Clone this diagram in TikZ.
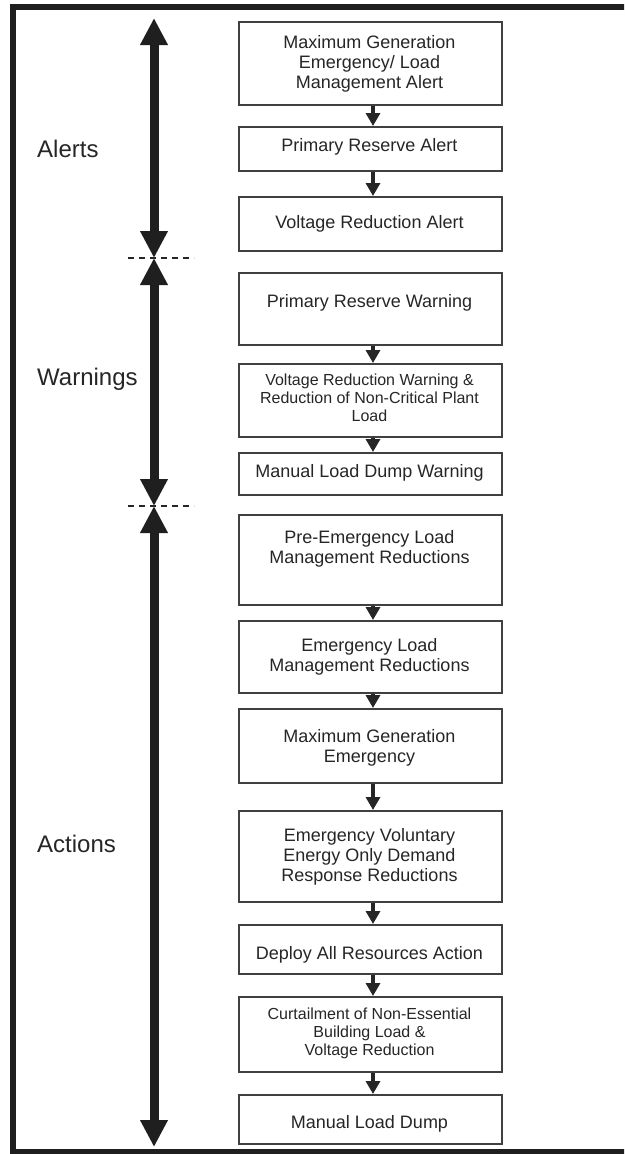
\documentclass[tikz,border=0pt]{standalone}
\usepackage{fontspec}
\setmainfont{Liberation Sans}
\usetikzlibrary{arrows.meta}
\begin{document}
\begin{tikzpicture}[x=1pt,y=-1pt,
  box/.style={draw=black!75, line width=2pt, minimum width=263pt, inner sep=0pt, anchor=north west},
  txt/.style={align=center, inner sep=0pt, text=black!85, font=\fontsize{18}{20}\selectfont},
  smalltxt/.style={txt, font=\fontsize{16}{18}\selectfont},
  lbl/.style={anchor=base west, inner sep=0pt, text=black!85, font=\fontsize{24}{28}\selectfont},
  flow/.style={-{Triangle[width=14pt,length=13pt]}, line width=3.5pt, draw=black!85},
  phase/.style={{Triangle[width=26pt,length=27pt]}-{Triangle[width=26pt,length=27pt]}, line width=9pt, draw=black!88},
  sepline/.style={draw=black!85, line width=1.3pt, dash pattern=on 6pt off 5pt},
  frame/.style={draw=black!88, line width=6pt, line join=miter}
]
\path[use as bounding box] (0,0) rectangle (624,1154);
\clip (0,0) rectangle (624,1154);
\fill[white] (0,0) rectangle (624,1154);

% outer frame
\coordinate (fbr) at (640,1152);
\coordinate (fbl) at (13,1152);
\coordinate (ftl) at (13,7);
\coordinate (ftr) at (640,7);
\draw[frame] (fbr) -- (fbl) -- (ftl) -- (ftr);

% boxes
\node[box, minimum height=83.5pt] (b1)  at (238,20.5) {};
\node[box, minimum height=44pt]   (b2)  at (238,126) {};
\node[box, minimum height=54pt]   (b3)  at (238,196) {};
\node[box, minimum height=72pt]   (b4)  at (238,272) {};
\node[box, minimum height=73pt]   (b5)  at (238,363) {};
\node[box, minimum height=42pt]   (b6)  at (238,452) {};
\node[box, minimum height=90pt]   (b7)  at (238,514) {};
\node[box, minimum height=72pt]   (b8)  at (238,620) {};
\node[box, minimum height=74pt]   (b9)  at (238,708) {};
\node[box, minimum height=91pt]   (b10) at (238,810) {};
\node[box, minimum height=49pt]   (b11) at (238,924) {};
\node[box, minimum height=75pt]   (b12) at (238,996) {};
\node[box, minimum height=49pt]   (b13) at (238,1094) {};

% texts
\node[txt] (t1)  at (369.5,63.4)  {Maximum Generation\\Emergency/ Load\\Management Alert};
\node[txt] (t2)  at (369.5,146.9) {Primary Reserve Alert};
\node[txt] (t3)  at (369.5,223.9) {Voltage Reduction Alert};
\node[txt] (t4)  at (369.5,302.9) {Primary Reserve Warning};
\node[smalltxt] (t5) at (369.5,397.5) {Voltage Reduction Warning \&\\Reduction of Non-Critical Plant\\Load};
\node[txt] (t6)  at (369.5,472.9) {Manual Load Dump Warning};
\node[txt] (t7)  at (369.5,548.9) {Pre-Emergency Load\\Management Reductions};
\node[txt] (t8)  at (369.5,656.4) {Emergency Load\\Management Reductions};
\node[txt] (t9)  at (369.5,747.9) {Maximum Generation\\Emergency};
\node[txt] (t10) at (369.5,856.4) {Emergency Voluntary\\Energy Only Demand\\Response Reductions};
\node[txt] (t11) at (369.5,954.9) {Deploy All Resources Action};
\node[smalltxt] (t12) at (369.5,1033.5) {Curtailment of Non-Essential\\Building Load \&\\Voltage Reduction};
\node[txt] (t13) at (369.5,1123.9) {Manual Load Dump};

% flow connectors
\foreach \a/\b in {b1/b2,b2/b3,b4/b5,b5/b6,b7/b8,b8/b9,b9/b10,b10/b11,b11/b12,b12/b13}{
  \draw[flow] ([xshift=2.5pt]\a.south) -- ([xshift=2.5pt]\b.north);
}

% phase labels
\node[lbl] (lA) at (37,157) {Alerts};
\node[lbl] (lW) at (37,385) {Warnings};
\node[lbl] (lC) at (37,852) {Actions};

% phase arrows
\coordinate (p0) at (154,18);
\coordinate (p1) at (154,258);
\coordinate (p2) at (154,506);
\coordinate (p3) at (154,1147);
\draw[phase] (p0) -- (p1);
\draw[phase] (p1) -- (p2);
\draw[phase] (p2) -- (p3);

% separators
\coordinate (s1l) at (128,258);
\coordinate (s1r) at (194,258);
\coordinate (s2l) at (128,506);
\coordinate (s2r) at (194,506);
\draw[sepline] (s1l) -- (s1r);
\draw[sepline] (s2l) -- (s2r);
\end{tikzpicture}
\end{document}
